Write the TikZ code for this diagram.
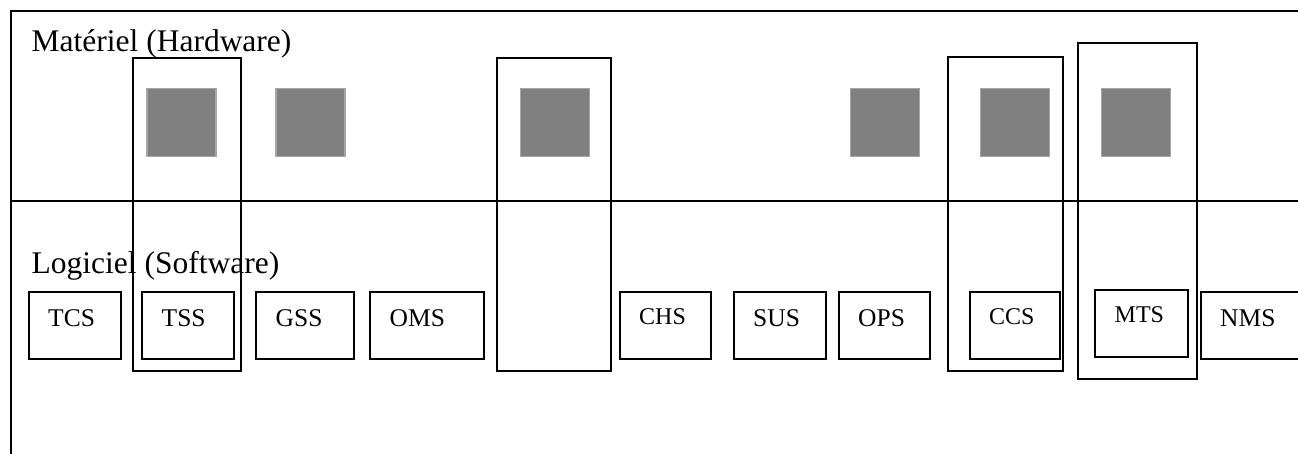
\documentclass[tikz,border=0pt]{standalone}
\usepackage{fontspec}
\setmainfont{Liberation Serif}
\usetikzlibrary{positioning}
\tikzset{
	chip/.style={draw=gray!70, fill=gray, line width=1.2pt, minimum width=69pt, minimum height=68pt, inner sep=0pt},
	swbox/.style={draw, line width=2pt, inner sep=0pt, anchor=north west, minimum height=67.5pt},
	group/.style={draw, line width=2pt, inner sep=0pt, anchor=north west},
	txt/.style={anchor=base west, inner sep=0pt},
}

\begin{document}
\begin{tikzpicture}[x=1pt, y=-1pt]
	\useasboundingbox (0,0) rectangle (1298,453);
	\clip (0,0) rectangle (1298,453);
	\draw[line width=2.2pt] (11,11) rectangle (1320,470);
	\draw[line width=2.2pt] (11,201) -- (1320,201);
	\node[txt, font=\fontsize{31.5}{36}\selectfont] (hw) at (31.5,51) {Matériel (Hardware)};
	\node[txt, font=\fontsize{31.5}{36}\selectfont] (sw) at (31.5,273.5) {Logiciel (Software)};
	\foreach \x/\index in {181.5/1, 310.5/2, 555/3, 885/4, 1015/5, 1136/6}{
		\node[chip] (chip\index) at (\x,122.7) {};
	};
	\foreach \name/\l/\t/\w/\h in {grpA/132/57/108/313, grpB/496/57/114/312.5, grpC/947/56/115/314, grpD/1076.5/42.3/119.5/336}{
		\node[group, minimum width=\w pt, minimum height=\h pt] (\name) at (\l,\t) {};
	};
	\foreach \name/\l/\t/\w/\b/\fs in {TCS/27.5/290.5/92/326/25.5, TSS/141/290.5/92/326/25.5, GSS/255/290.5/98/326/25.5, OMS/369/290.5/114/326/25.5, CHS/618.5/290.5/91.5/324.5/24, SUS/732.5/290.5/92/326/25.5, OPS/837.5/290.5/91.5/326/25.5, CCS/968.5/290.5/90/324.5/24, MTS/1094/288.7/92.5/322/24, NMS/1199.5/290.5/120/326/25.5}{
		\node[swbox, minimum width=\w pt] (\name) at (\l,\t) {};
		\node[txt, font=\fontsize{\fs}{30}\selectfont] (\name-label) at (\l+20.5,\b) {\name};
	};
\end{tikzpicture}
\end{document}
